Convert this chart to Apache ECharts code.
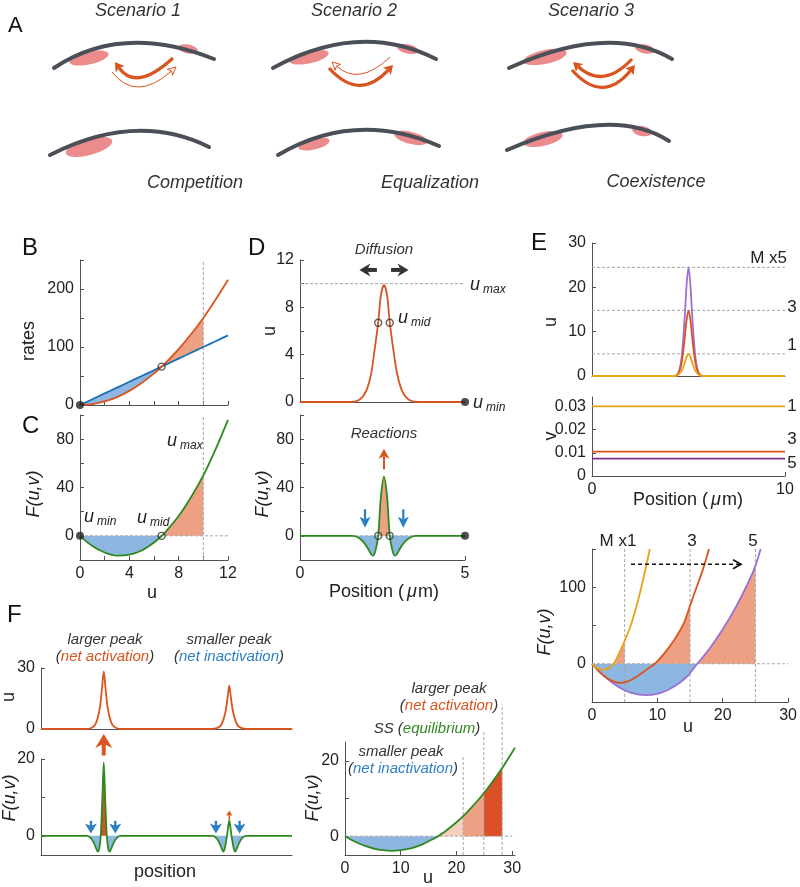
<!DOCTYPE html>
<html lang="en">
<head>
<meta charset="UTF-8">
<title>Peak competition</title>
<script src="https://cdn.jsdelivr.net/npm/echarts@6/dist/echarts.min.js"></script>
<style>
  html, body { margin: 0; padding: 0; background: #fff; }
  #main { width: 800px; height: 887px; }
</style>
</head>
<body>
<div id="main"></div>
<script>
// ---------- data ----------
// A: schematic, drawn on a hidden 800 x 200 frame
const cortexArcs = [            // start x,y / apex x,y / end x,y
  [54, 68, 128, 43, 214, 59], [273, 68, 357, 42, 436, 59], [509, 68, 600, 43, 672, 59],
  [50, 155, 133, 131, 209, 147], [278, 155, 357, 130, 439, 146], [507, 150, 600, 125, 669, 141]
];
const patches = [               // centre x,y / radii / tilt (deg)
  [89, 58, 20, 6.5, 12], [188, 49, 10, 4.5, -12],
  [309, 57, 20, 6.5, 12], [408, 49, 11, 4.5, -12],
  [545, 57, 22, 7, 12], [645, 49, 10, 4.5, -12],
  [89, 147, 24, 8, 15],
  [314, 144, 16, 5.5, 14], [411, 138, 17, 6, -14],
  [543, 139, 20, 7, 12], [642, 131, 10, 5, -12]
];
const fluxArrows = [            // start / apex / end / thick?
  [173, 58, 140, 76, 115, 62, 1], [112, 72, 140, 86, 176, 67, 0],
  [390, 57, 360, 73, 332, 62, 0], [329, 68, 360, 84, 393, 65, 1],
  [632, 59, 603, 75, 573, 62, 1], [572, 70, 603, 86, 635, 65, 1]
];

// B, C
const uBC = [0, 1, 2, 3, 4, 5, 6, 6.62, 7, 8, 9, 10, 11, 12];
const ratePlus = [0, 1.6, 6.2, 13.6, 24.4, 37.9, 54.5, 66.2, 74, 96.4, 121.9, 150, 181.8, 216];
const rateMinus = [0, 10, 20, 30, 40, 50, 60, 66.2, 70, 80, 90, 100, 110, 120];
const fBC = [0, -8.4, -13.8, -16.4, -15.6, -12.1, -5.5, 0, 4, 16.4, 31.9, 50, 71.8, 96];
const uMax = 10;

// D
const xD = [0, 1.5, 1.8, 2.0, 2.15, 2.25, 2.37, 2.45, 2.545, 2.64, 2.72, 2.84, 2.95, 3.1, 3.3, 3.6, 5];
const uD = [0, 0, 0.2, 0.9, 2.3, 4.2, 6.7, 9.0, 9.9, 9.0, 6.7, 4.2, 2.3, 0.9, 0.2, 0, 0];
const xDr = [0, 1.6, 1.8, 1.95, 2.05, 2.15, 2.22, 2.29, 2.37, 2.45, 2.545, 2.64, 2.72, 2.8, 2.87, 2.94, 3.04, 3.14, 3.3, 3.5, 5];
const fDr = [0, 0, -2, -6, -10, -15, -16.4, -12, 0, 32, 49, 32, 0, -12, -16.4, -15, -10, -6, -2, 0, 0];
const dMid = [2.37, 2.72];

// E
const xE = [0, 4.3, 4.5, 4.65, 4.8, 4.9, 5.0, 5.1, 5.2, 5.35, 5.5, 5.7, 10];
const uE1 = [0, 0, 0.4, 1.2, 2.9, 4.3, 5.0, 4.3, 2.9, 1.2, 0.4, 0, 0];
const uE3 = [0, 0, 0.8, 3.2, 8.4, 12.6, 14.8, 12.6, 8.4, 3.2, 0.8, 0, 0];
const uE5 = [0, 0, 1.0, 4.5, 13, 20.5, 24.5, 20.5, 13, 4.5, 1.0, 0, 0];
const ePeaks = [5.0, 14.8, 24.5];
const vLevels = [0.03, 0.0105, 0.0075];
const uM1 = [0, 0.5, 1, 1.67, 2.3, 3, 3.33, 4, 5, 6, 7.2, 8, 8.85];
const fM1 = [0, -4, -6.5, -7.8, -6.8, -3, 0, 11, 30, 52, 88, 117, 150];
const uM3 = [0, 1, 2, 3, 4.3, 5.5, 7, 8.3, 9.6, 11, 12.5, 14, 15, 16, 17, 17.9];
const fM3 = [0, -9.5, -17, -22, -25, -23, -16, -8, 0, 13, 30, 52, 76, 100, 124, 150];
const uM5 = [0, 2, 4, 6, 8.3, 10.5, 12.5, 14.5, 16.1, 18, 20, 22, 24, 25, 25.8];
const fM5 = [0, -17, -30, -38, -41, -38, -30, -17, 0, 20, 45, 74, 108, 128, 150];
const mMax = [5, 15, 25];

// F
const posF = [0, 18, 20, 21.5, 22.5, 23.5, 24.3, 25, 25.7, 26.5, 27.5, 28.5, 30, 32,
              68, 70, 71.5, 72.5, 73.5, 74.3, 75, 75.7, 76.5, 77.5, 78.5, 80, 82, 100];
const uF = [0, 0, 0.5, 2, 5, 11, 20, 28.3, 20, 11, 5, 2, 0.5, 0,
            0, 0.4, 1.5, 4, 8.5, 15, 21.3, 15, 8.5, 4, 1.5, 0.4, 0, 0];
const posFb = [0, 18.5, 20, 21, 21.8, 22.6, 23.2, 23.8, 24.4, 25, 25.6, 26.2, 26.8, 27.4, 28.2, 29, 30, 31.5,
               68.5, 70, 71, 71.8, 72.6, 73.2, 73.8, 74.1, 74.4, 75, 75.6, 75.9, 76.2, 76.8, 77.4, 78.2, 79, 80, 81.5, 100];
const fFb = [0, 0, -0.7, -1.8, -3.0, -4.1, -3.3, 0, 9, 19.1, 9, 0, -3.3, -4.1, -3.0, -1.8, -0.7, 0,
             0, -0.7, -1.8, -3.0, -4.1, -3.3, -1.2, 0, 1.5, 4, 1.5, 0, -1.2, -3.3, -4.1, -3.0, -1.8, -0.7, 0, 0];
const uFr = [0, 2, 4, 6, 8.35, 10, 12, 14, 16, 16.7, 18, 20, 21.2, 22, 24, 24.9, 26, 28.2, 30, 30.5];
const fFr = [0, -1.6, -2.8, -3.6, -3.9, -3.7, -3.15, -2.1, -0.6, 0, 1.3, 3.7, 5.3, 6.5, 9.8, 11.4, 13.5, 18.1, 22.3, 23.5];
const frPeaks = [21.2, 24.9, 28.2];
const frGuideTop = [21, 28, 35];

// ---------- style ----------
const FONT = '"Liberation Sans", Arial, Helvetica, sans-serif';
const AXC = '#505050';
const ORANGE = '#d9541e', BLUE = '#1b6fb5', GREEN = '#2d8a1e';
const YELLOW = '#e8a21a', PURPLE = '#9a6fd6', PURPLE_D = '#7b2f8f';
const FILL_B = '#8db6e0', FILL_O = '#eda083', FILL_R = '#db5026', FILL_P = '#f8cfbd';
const ARROW_B = '#2d7fc4';

function pairs(xs, ys, i0, i1) {
  const a = i0 === undefined ? 0 : i0, b = i1 === undefined ? xs.length - 1 : i1;
  const out = [];
  for (let i = a; i <= b; i++) out.push([xs[i], ys[i]]);
  return out;
}

function curve(g, xs, ys, color, width) {
  return {type: 'line', xAxisIndex: g, yAxisIndex: g, data: pairs(xs, ys), symbol: 'none', smooth: 0.3,
    lineStyle: {color: color, width: width || 1.8}, z: 3, silent: true};
}

function area(g, xs, ys, i0, i1, color) {
  return {type: 'line', xAxisIndex: g, yAxisIndex: g, data: pairs(xs, ys, i0, i1), symbol: 'none', smooth: 0.3,
    lineStyle: {width: 0}, areaStyle: {color: color, opacity: 1, origin: 0}, z: 1, silent: true};
}

// area between two curves
function band(g, xs, top, bot, i0, i1, color) {
  return {type: 'custom', xAxisIndex: g, yAxisIndex: g, z: 1, silent: true, data: [[xs[i0], top[i0]]],
    renderItem: function (p, api) {
      const pts = [];
      for (let i = i0; i <= i1; i++) pts.push(api.coord([xs[i], top[i]]));
      for (let i = i1; i >= i0; i--) pts.push(api.coord([xs[i], bot[i]]));
      return {type: 'polygon', shape: {points: pts}, style: {fill: color}};
    }};
}

function dashes(g, list) {
  return {type: 'custom', xAxisIndex: g, yAxisIndex: g, z: 2, silent: true, data: list,
    renderItem: function (p, api) {
      const a = api.coord([api.value(0), api.value(1)]);
      const b = api.coord([api.value(2), api.value(3)]);
      return {type: 'line', shape: {x1: a[0], y1: a[1], x2: b[0], y2: b[1]},
        style: {stroke: '#a6a6a6', lineWidth: 1, lineDash: [3, 2]}};
    }};
}

function arrows(g, list, color, o) {
  return {type: 'custom', xAxisIndex: g, yAxisIndex: g, z: 4, silent: true, data: list,
    renderItem: function (p, api) {
      const a = api.coord([api.value(0), api.value(1)]);
      const b = api.coord([api.value(2), api.value(3)]);
      const dx = b[0] - a[0], dy = b[1] - a[1], len = Math.hypot(dx, dy) || 1;
      const ux = dx / len, uy = dy / len, nx = -uy, ny = ux;
      const bx = b[0] - ux * o.head, by = b[1] - uy * o.head, hw = o.headW / 2;
      const kids = [];
      if (o.open) {
        kids.push({type: 'line', shape: {x1: a[0], y1: a[1], x2: b[0] - ux, y2: b[1] - uy},
          style: {stroke: color, lineWidth: o.shaft, lineDash: [4, 3]}});
        kids.push({type: 'polyline', shape: {points: [[bx + nx * hw, by + ny * hw], [b[0], b[1]], [bx - nx * hw, by - ny * hw]]},
          style: {stroke: color, lineWidth: o.shaft, fill: null}});
      } else {
        const k = o.head * (o.notch || 0);
        kids.push({type: 'line', shape: {x1: a[0], y1: a[1], x2: bx + ux * k, y2: by + uy * k},
          style: {stroke: color, lineWidth: o.shaft}});
        kids.push({type: 'polygon', shape: {points: [[b[0], b[1]], [bx + nx * hw, by + ny * hw],
          [bx + ux * k, by + uy * k], [bx - nx * hw, by - ny * hw]]}, style: {fill: color}});
      }
      return {type: 'group', children: kids};
    }};
}

function marks(g, list, ring) {
  return {type: 'scatter', xAxisIndex: g, yAxisIndex: g, data: list, symbol: 'circle', symbolSize: ring ? 7 : 8,
    clip: false, z: 5, silent: true,
    itemStyle: ring ? {color: 'rgba(255,255,255,0)', borderColor: '#333', borderWidth: 1.4} : {color: '#222'}};
}

function axis(g, min, max, o) {
  o = o || {};
  return {
    type: 'value', gridIndex: g, min: min, max: max, interval: o.interval, inverse: !!o.inverse, show: o.show !== false,
    axisLine: {show: o.line !== false, onZero: false, lineStyle: {color: AXC, width: 1}},
    axisTick: {show: o.ticks !== false, inside: true, length: 4, lineStyle: {color: AXC}, customValues: o.tickValues},
    axisLabel: {show: !!o.labels, customValues: o.labels, color: '#222', fontSize: 16, fontFamily: FONT, margin: 6},
    splitLine: {show: false}
  };
}

function label(x, y, text, o) {
  o = o || {};
  return {type: 'text', x: x, y: y, rotation: o.rot || 0, silent: true, z: 50,
    style: {text: text, fill: o.color || '#222', fontSize: o.size || 16, fontFamily: FONT,
      fontStyle: o.italic ? 'italic' : 'normal', align: o.align || 'center', verticalAlign: 'middle', rich: o.rich}};
}

function rs(color, size, italic, extra) {
  return Object.assign({fill: color, color: color, fontSize: size, fontFamily: FONT,
    fontStyle: italic ? 'italic' : 'normal'}, extra || {});
}

function subLabel(x, y, s) {
  return label(x, y, '{u|u}{s|' + s + '}', {align: 'left', rich: {
    u: rs('#222', 18, true, {lineHeight: 22}),
    s: rs('#222', 12, true, {lineHeight: 10, verticalAlign: 'bottom', padding: [0, 0, 0, 3]})
  }});
}

function twoTone(x, y, inner, color, align) {
  return label(x, y, '{p|(}{c|' + inner + '}{p|)}', {align: align || 'center', rich: {
    p: rs('#333', 15, true), c: rs(color, 15, true)
  }});
}

function posLabel(x, y) {
  return label(x, y, '{a|Position (}{m|\u03bc}{a|m)}', {rich: {a: rs('#222', 18, false), m: rs('#222', 18, true, {padding: [0, 1, 0, 3]})}});
}

// ---------- schematic renderers ----------
function quadCtrl(p0, m, p1) { return [2 * m[0] - (p0[0] + p1[0]) / 2, 2 * m[1] - (p0[1] + p1[1]) / 2]; }

const schematic = [
  {type: 'custom', xAxisIndex: 0, yAxisIndex: 0, z: 2, silent: true, data: patches,
    renderItem: function (p, api) {
      const c = api.coord([api.value(0), api.value(1)]);
      const s = api.size([api.value(2), api.value(3)]);
      return {type: 'ellipse', x: c[0], y: c[1], rotation: api.value(4) * Math.PI / 180,
        shape: {cx: 0, cy: 0, rx: Math.abs(s[0]), ry: Math.abs(s[1])}, style: {fill: '#eb8b8b'}};
    }},
  {type: 'custom', xAxisIndex: 0, yAxisIndex: 0, z: 3, silent: true, data: cortexArcs,
    renderItem: function (p, api) {
      const p0 = api.coord([api.value(0), api.value(1)]);
      const m = api.coord([api.value(2), api.value(3)]);
      const p1 = api.coord([api.value(4), api.value(5)]);
      const c = quadCtrl(p0, m, p1);
      return {type: 'bezierCurve', shape: {x1: p0[0], y1: p0[1], x2: p1[0], y2: p1[1], cpx1: c[0], cpy1: c[1]},
        style: {stroke: '#4b5058', lineWidth: 4, fill: null, lineCap: 'round'}};
    }},
  {type: 'custom', xAxisIndex: 0, yAxisIndex: 0, z: 4, silent: true, data: fluxArrows,
    renderItem: function (p, api) {
      const p0 = api.coord([api.value(0), api.value(1)]);
      const m = api.coord([api.value(2), api.value(3)]);
      const p1 = api.coord([api.value(4), api.value(5)]);
      const thick = api.value(6) === 1;
      const c = quadCtrl(p0, m, p1);
      const dx = p1[0] - c[0], dy = p1[1] - c[1], L = Math.hypot(dx, dy);
      const ux = dx / L, uy = dy / L, nx = -uy, ny = ux;
      const hl = thick ? 9 : 8, hw = thick ? 5.5 : 4;
      const bx = p1[0] - ux * hl, by = p1[1] - uy * hl;
      const head = [[p1[0], p1[1]], [bx + nx * hw, by + ny * hw], [bx + ux * 2, by + uy * 2], [bx - nx * hw, by - ny * hw]];
      return {type: 'group', children: [
        {type: 'bezierCurve', shape: {x1: p0[0], y1: p0[1], x2: bx + ux * 2, y2: by + uy * 2, cpx1: c[0], cpy1: c[1]},
          style: {stroke: ORANGE, lineWidth: thick ? 3.2 : 1, fill: null}},
        {type: 'polygon', shape: {points: head},
          style: thick ? {fill: ORANGE} : {fill: '#fff', stroke: ORANGE, lineWidth: 1}}
      ]};
    }}
];

// ---------- layout ----------
const grids = [
  {left: 0, top: 0, width: 800, height: 200},        // 0 A
  {left: 80, top: 260, width: 148, height: 145},     // 1 B
  {left: 80, top: 415, width: 148, height: 145},     // 2 C
  {left: 300, top: 260, width: 165, height: 142},    // 3 D top
  {left: 300, top: 415, width: 165, height: 145},    // 4 D bottom
  {left: 592, top: 243, width: 193, height: 133},    // 5 E u
  {left: 592, top: 397, width: 193, height: 79},     // 6 E v
  {left: 592, top: 549, width: 199, height: 153},    // 7 E F
  {left: 41, top: 668, width: 251, height: 61},      // 8 F u
  {left: 41, top: 759, width: 251, height: 96},      // 9 F F
  {left: 345, top: 742, width: 170, height: 113}     // 10 F right
];

const xAxes = [
  axis(0, 0, 800, {show: false}),
  axis(1, 0, 12, {interval: 2}),
  axis(2, 0, 12, {interval: 2, labels: [0, 4, 8, 12]}),
  axis(3, 0, 5, {ticks: false}),
  axis(4, 0, 5, {interval: 5, labels: [0, 5]}),
  axis(5, 0, 10, {ticks: false}),
  axis(6, 0, 10, {interval: 10, labels: [0, 10]}),
  axis(7, 0, 30, {interval: 10, labels: [0, 10, 20, 30]}),
  axis(8, 0, 100, {ticks: false}),
  axis(9, 0, 100, {ticks: false}),
  axis(10, 0, 30.5, {labels: [0, 10, 20, 30], tickValues: [0, 10, 20, 30]})
];

const yAxes = [
  axis(0, 0, 200, {show: false, inverse: true}),
  axis(1, 0, 250, {interval: 50, labels: [0, 100, 200]}),
  axis(2, -20, 100, {interval: 20, labels: [0, 40, 80]}),
  axis(3, 0, 12, {interval: 2, labels: [0, 4, 8, 12]}),
  axis(4, -20, 100, {interval: 20, labels: [0, 40, 80]}),
  axis(5, 0, 30, {interval: 10, labels: [0, 10, 20, 30]}),
  axis(6, 0, 0.034, {labels: [0, 0.01, 0.02, 0.03], tickValues: [0, 0.01, 0.02, 0.03]}),
  axis(7, -50, 150, {interval: 50, labels: [0, 100]}),
  axis(8, 0, 30, {interval: 30, labels: [0, 30]}),
  axis(9, -5, 20, {labels: [0, 20], tickValues: [0, 10, 20]}),
  axis(10, -5, 25, {labels: [0, 20], tickValues: [0, 10, 20]})
];

// ---------- series ----------
const series = schematic.concat([
  // B
  band(1, uBC, rateMinus, ratePlus, 0, 7, FILL_B),
  band(1, uBC, ratePlus, rateMinus, 7, 11, FILL_O),
  dashes(1, [[uMax, 0, uMax, 250]]),
  curve(1, uBC, rateMinus, BLUE),
  curve(1, uBC, ratePlus, ORANGE),
  marks(1, [[0, 0]]),
  marks(1, [[uBC[7], ratePlus[7]]], true),
  // C
  area(2, uBC, fBC, 0, 7, FILL_B),
  area(2, uBC, fBC, 7, 11, FILL_O),
  dashes(2, [[uMax, -20, uMax, 100], [0, 0, 12, 0]]),
  curve(2, uBC, fBC, GREEN),
  marks(2, [[0, 0]]),
  marks(2, [[uBC[7], 0]], true),
  // D top
  dashes(3, [[0, uMax, 5, uMax]]),
  curve(3, xD, uD, ORANGE),
  arrows(3, [[2.33, 11.16, 1.8, 11.16], [2.76, 11.16, 3.29, 11.16]], '#333', {head: 11, headW: 13, shaft: 4, notch: 0.3}),
  marks(3, [[5, 0]]),
  marks(3, [[dMid[0], 6.7], [dMid[1], 6.7]], true),
  // D bottom
  area(4, xDr, fDr, 1, 8, FILL_B),
  area(4, xDr, fDr, 8, 12, FILL_O),
  area(4, xDr, fDr, 12, 19, FILL_B),
  curve(4, xDr, fDr, GREEN),
  dashes(4, [[0, 0, 5, 0]]),
  arrows(4, [[2.545, 55, 2.545, 72]], ORANGE, {head: 10, headW: 11, shaft: 2, notch: 0.25}),
  arrows(4, [[1.97, 22, 1.97, 6.6], [3.13, 22, 3.13, 6.6]], ARROW_B, {head: 11, headW: 11, shaft: 2.2, notch: 0.25}),
  marks(4, [[5, 0]]),
  marks(4, [[dMid[0], 0], [dMid[1], 0]], true),
  // E u
  dashes(5, ePeaks.map(function (v) { return [0, v, 10, v]; })),
  curve(5, xE, uE5, PURPLE),
  curve(5, xE, uE3, ORANGE),
  curve(5, xE, uE1, YELLOW),
  // E v
  curve(6, [0, 10], [vLevels[0], vLevels[0]], YELLOW),
  curve(6, [0, 10], [vLevels[1], vLevels[1]], ORANGE),
  curve(6, [0, 10], [vLevels[2], vLevels[2]], PURPLE_D),
  // E F(u,v)
  area(7, uM5, fM5, 0, 8, FILL_B),
  area(7, uM1, fM1, 6, 8, FILL_O),
  area(7, uM3, fM3, 8, 12, FILL_O),
  area(7, uM5, fM5, 8, 13, FILL_O),
  dashes(7, mMax.map(function (v) { return [v, -50, v, 150]; }).concat([[0, 0, 30, 0]])),
  curve(7, uM5, fM5, PURPLE),
  curve(7, uM3, fM3, ORANGE),
  curve(7, uM1, fM1, YELLOW),
  arrows(7, [[5.97, 130, 22.8, 130]], '#111', {head: 8, headW: 9, shaft: 1.6, open: true}),
  // F u
  curve(8, posF, uF, ORANGE),
  // F F
  area(9, posFb, fFb, 1, 7, FILL_B),
  area(9, posFb, fFb, 7, 11, FILL_R),
  area(9, posFb, fFb, 11, 17, FILL_B),
  area(9, posFb, fFb, 18, 25, FILL_B),
  area(9, posFb, fFb, 29, 36, FILL_B),
  curve(9, posFb, fFb, GREEN),
  arrows(9, [[25, 20.9, 25, 26.5]], ORANGE, {head: 14, headW: 17, shaft: 4, notch: 0.3}),
  arrows(9, [[75, 4.2, 75, 6.6]], ORANGE, {head: 5, headW: 6, shaft: 1.5}),
  arrows(9, [[19.9, 3.9, 19.9, 0.6], [29.6, 3.9, 29.6, 0.6], [69.7, 3.9, 69.7, 0.6], [79.1, 3.9, 79.1, 0.6]],
    ARROW_B, {head: 10, headW: 12, shaft: 2.4, notch: 0.25}),
  // F right
  area(10, uFr, fFr, 0, 9, FILL_B),
  area(10, uFr, fFr, 9, 12, FILL_P),
  area(10, uFr, fFr, 12, 15, FILL_O),
  area(10, uFr, fFr, 15, 17, FILL_R),
  dashes(10, [[0, 0, 30, 0]].concat(frPeaks.map(function (v, i) { return [v, -5, v, frGuideTop[i]]; }))),
  curve(10, uFr, fFr, GREEN)
]);

// ---------- text ----------
const texts = [
  label(8, 26, 'A', {size: 22, align: 'left', color: '#111'}),
  label(22, 248, 'B', {size: 24, align: 'left', color: '#111'}),
  label(22, 426, 'C', {size: 24, align: 'left', color: '#111'}),
  label(248, 248, 'D', {size: 24, align: 'left', color: '#111'}),
  label(531, 243, 'E', {size: 24, align: 'left', color: '#111'}),
  label(7, 615, 'F', {size: 24, align: 'left', color: '#111'}),

  label(138, 11, 'Scenario 1', {size: 18, italic: true, color: '#333'}),
  label(354, 11, 'Scenario 2', {size: 18, italic: true, color: '#333'}),
  label(591, 11, 'Scenario 3', {size: 18, italic: true, color: '#333'}),
  label(195, 183, 'Competition', {size: 18, italic: true, color: '#333'}),
  label(430, 183, 'Equalization', {size: 18, italic: true, color: '#333'}),
  label(656, 182, 'Coexistence', {size: 18, italic: true, color: '#333'}),

  label(29, 341, 'rates', {size: 18, rot: Math.PI / 2}),
  label(34, 494, 'F(u,v)', {size: 18, italic: true, rot: Math.PI / 2}),
  label(152, 593, 'u', {size: 18}),
  subLabel(84, 517, 'min'),
  subLabel(137, 518, 'mid'),
  subLabel(167, 441, 'max'),

  label(270, 331, 'u', {size: 18, rot: Math.PI / 2}),
  label(263, 494, 'F(u,v)', {size: 18, italic: true, rot: Math.PI / 2}),
  label(384, 250, 'Diffusion', {size: 15, italic: true, color: '#333'}),
  label(384, 434, 'Reactions', {size: 15, italic: true, color: '#333'}),
  subLabel(470, 285, 'max'),
  subLabel(398, 318, 'mid'),
  subLabel(473, 403, 'min'),
  posLabel(384, 592),

  label(551, 322, 'u', {size: 18, rot: Math.PI / 2}),
  label(551, 436, 'v', {size: 18, rot: Math.PI / 2}),
  label(787, 258, 'M x5', {size: 17, align: 'right'}),
  label(792, 307, '3', {size: 17}),
  label(792, 345, '1', {size: 17}),
  label(792, 406, '1', {size: 17}),
  label(792, 439, '3', {size: 17}),
  label(792, 463, '5', {size: 17}),
  posLabel(688, 500),
  label(618, 541, 'M x1', {size: 17}),
  label(692, 541, '3', {size: 17}),
  label(753, 541, '5', {size: 17}),
  label(545, 632, 'F(u,v)', {size: 18, italic: true, rot: Math.PI / 2}),
  label(688, 727, 'u', {size: 18}),

  label(105, 640, 'larger peak', {size: 15, italic: true, color: '#333'}),
  twoTone(105, 657, 'net activation', ORANGE),
  label(229, 640, 'smaller peak', {size: 15, italic: true, color: '#333'}),
  twoTone(229, 657, 'net inactivation', ARROW_B),
  label(9, 697, 'u', {size: 18, rot: Math.PI / 2}),
  label(10, 798, 'F(u,v)', {size: 18, italic: true, rot: Math.PI / 2}),
  label(165, 872, 'position', {size: 18}),

  label(449, 689, 'larger peak', {size: 15, italic: true, color: '#333'}),
  twoTone(449, 706, 'net activation', ORANGE),
  label(427, 729, '{p|SS (}{c|equilibrium}{p|)}', {rich: {p: rs('#333', 15, true), c: rs(GREEN, 15, true)}}),
  label(401, 752, 'smaller peak', {size: 15, italic: true, color: '#333'}),
  twoTone(403, 769, 'net inactivation', ARROW_B),
  label(313, 798, 'F(u,v)', {size: 18, italic: true, rot: Math.PI / 2}),
  label(428, 878, 'u', {size: 18})
];

const chart = echarts.init(document.getElementById('main'));
chart.setOption({
  animation: false,
  backgroundColor: '#fff',
  grid: grids,
  xAxis: xAxes,
  yAxis: yAxes,
  series: series,
  graphic: {elements: texts}
});
</script>
</body>
</html>
